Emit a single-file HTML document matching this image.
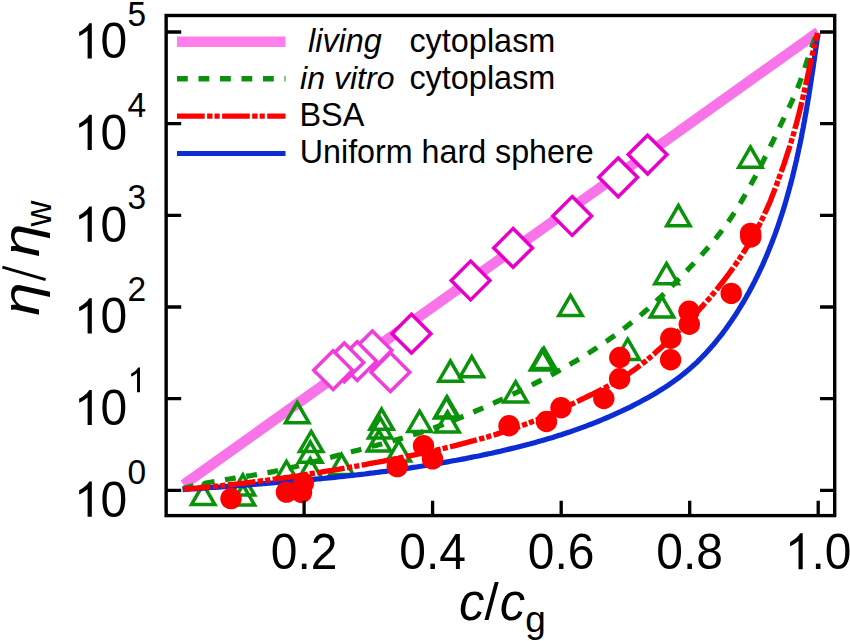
<!DOCTYPE html>
<html><head><meta charset="utf-8"><style>
html,body{margin:0;padding:0;background:#fff;}
body{width:850px;height:641px;overflow:hidden;}
svg{display:block;}
text{font-family:"Liberation Sans",sans-serif;fill:#000;}
</style></head><body>
<svg width="850" height="641" viewBox="0 0 850 641">
<rect x="0" y="0" width="850" height="641" fill="#fff"/>

<defs><clipPath id="pa"><rect x="166.15" y="15.5" width="668.5500000000001" height="500.1"/></clipPath></defs>
<g clip-path="url(#pa)">
<path d="M183.5,484.8 L818.2,32.0" stroke="#F874E8" stroke-width="10.4" fill="none"/>
<g fill="#fff" stroke="#F03CDC" stroke-width="3.5"><path d="M390.4,352.8 L409.8,372.2 L390.4,391.6 L371.0,372.2 Z"/><path d="M372.4,330.9 L391.8,350.3 L372.4,369.7 L353.0,350.3 Z"/><path d="M357.2,341.8 L376.6,361.2 L357.2,380.6 L337.8,361.2 Z"/><path d="M344.3,343.0 L363.7,362.4 L344.3,381.8 L324.9,362.4 Z"/><path d="M333.1,350.8 L352.5,370.2 L333.1,389.6 L313.7,370.2 Z"/></g>
<g fill="#fff" stroke="#E600CA" stroke-width="3.5"><path d="M411.5,314.3 L430.9,333.7 L411.5,353.1 L392.1,333.7 Z"/><path d="M470.6,261.1 L490.0,280.5 L470.6,299.9 L451.2,280.5 Z"/><path d="M513.1,228.5 L532.5,247.9 L513.1,267.3 L493.7,247.9 Z"/><path d="M572.2,196.6 L591.6,216.0 L572.2,235.4 L552.8,216.0 Z"/><path d="M618.2,157.9 L637.6,177.3 L618.2,196.7 L598.8,177.3 Z"/><path d="M647.6,135.2 L667.0,154.6 L647.6,174.0 L628.2,154.6 Z"/></g>
<g fill="none" stroke="#0A930A" stroke-width="3.5"><path d="M203.2,484.3 L214.9,504.5 L191.5,504.5 Z"/><path d="M242.9,474.8 L254.6,495.0 L231.2,495.0 Z"/><path d="M242.9,484.8 L254.6,505.0 L231.2,505.0 Z"/><path d="M297.2,402.5 L308.9,422.7 L285.5,422.7 Z"/><path d="M311.2,431.4 L322.9,451.6 L299.5,451.6 Z"/><path d="M310.3,442.0 L322.0,462.2 L298.6,462.2 Z"/><path d="M310.3,458.3 L322.0,478.5 L298.6,478.5 Z"/><path d="M286.4,461.4 L298.1,481.6 L274.7,481.6 Z"/><path d="M341.5,454.3 L353.2,474.5 L329.8,474.5 Z"/><path d="M381.6,409.1 L393.3,429.3 L369.9,429.3 Z"/><path d="M380.2,417.8 L391.9,438.0 L368.5,438.0 Z"/><path d="M379.0,430.8 L390.7,451.0 L367.3,451.0 Z"/><path d="M398.8,440.8 L410.5,461.0 L387.1,461.0 Z"/><path d="M419.6,411.2 L431.3,431.4 L407.9,431.4 Z"/><path d="M450.4,361.0 L462.1,381.2 L438.7,381.2 Z"/><path d="M471.8,356.6 L483.5,376.8 L460.1,376.8 Z"/><path d="M447.1,396.8 L458.8,417.0 L435.4,417.0 Z"/><path d="M446.3,397.7 L458.0,417.9 L434.6,417.9 Z"/><path d="M447.5,411.7 L459.2,431.9 L435.8,431.9 Z"/><path d="M542.1,349.8 L553.8,370.0 L530.4,370.0 Z"/><path d="M544.0,348.3 L555.7,368.5 L532.3,368.5 Z"/><path d="M515.6,381.7 L527.3,401.9 L503.9,401.9 Z"/><path d="M627.7,339.2 L639.4,359.4 L616.0,359.4 Z"/><path d="M662.0,296.8 L673.7,317.0 L650.3,317.0 Z"/><path d="M570.5,295.4 L582.2,315.6 L558.8,315.6 Z"/><path d="M666.5,263.5 L678.2,283.7 L654.8,283.7 Z"/><path d="M678.4,205.5 L690.1,225.7 L666.7,225.7 Z"/><path d="M750.4,147.0 L762.1,167.2 L738.7,167.2 Z"/></g>
<path d="M183.0,488.6 L185.7,487.8 L188.4,487.1 L191.1,486.4 L193.8,485.8 L196.5,485.1 L199.2,484.5 L202.0,483.9 L204.7,483.4 L207.4,482.8 L210.1,482.3 L212.9,481.8 L215.6,481.3 L218.4,480.8 L221.1,480.3 L223.9,479.9 L226.6,479.4 L229.4,479.0 L232.1,478.5 L234.9,478.1 L237.6,477.7 L240.4,477.2 L243.1,476.8 L245.9,476.4 L248.6,475.9 L251.4,475.5 L254.1,475.0 L256.9,474.6 L259.6,474.1 L262.4,473.6 L265.1,473.1 L267.8,472.6 L270.6,472.1 L273.3,471.6 L276.0,471.0 L278.7,470.4 L281.5,469.8 L284.2,469.2 L286.9,468.6 L289.6,468.0 L292.3,467.3 L295.0,466.7 L297.7,466.0 L300.4,465.3 L303.1,464.6 L305.8,463.9 L308.5,463.2 L311.2,462.5 L313.9,461.8 L316.6,461.1 L319.3,460.4 L322.0,459.7 L324.7,458.9 L327.3,458.2 L330.0,457.5 L332.7,456.8 L335.4,456.0 L338.1,455.3 L340.8,454.6 L343.5,453.9 L346.2,453.2 L348.9,452.5 L351.6,451.8 L354.3,451.1 L357.0,450.4 L359.7,449.7 L362.4,449.0 L365.1,448.3 L367.8,447.5 L370.5,446.8 L373.2,446.1 L375.9,445.4 L378.6,444.7 L381.3,444.0 L384.0,443.2 L386.7,442.5 L389.3,441.8 L392.0,441.0 L394.7,440.3 L397.4,439.5 L400.1,438.7 L402.7,438.0 L405.4,437.2 L408.1,436.4 L410.7,435.6 L413.4,434.8 L416.1,433.9 L418.7,433.1 L421.4,432.2 L424.0,431.4 L426.6,430.5 L429.3,429.6 L431.9,428.7 L434.5,427.7 L437.1,426.8 L439.7,425.8 L442.4,424.9 L445.0,423.9 L447.5,422.9 L450.1,421.8 L452.7,420.8 L455.3,419.8 L457.9,418.7 L460.5,417.6 L463.0,416.5 L465.6,415.5 L468.2,414.4 L470.7,413.3 L473.3,412.1 L475.8,411.0 L478.4,409.9 L480.9,408.8 L483.5,407.7 L486.0,406.5 L488.6,405.4 L491.1,404.2 L493.7,403.1 L496.2,401.9 L498.7,400.8 L501.3,399.6 L503.8,398.5 L506.3,397.3 L508.9,396.1 L511.4,394.9 L513.9,393.7 L516.4,392.5 L518.9,391.3 L521.4,390.1 L523.9,388.9 L526.4,387.6 L528.9,386.4 L531.4,385.2 L533.9,383.9 L536.4,382.6 L538.9,381.4 L541.3,380.1 L543.8,378.8 L546.3,377.5 L548.7,376.2 L551.2,374.9 L553.6,373.6 L556.1,372.2 L558.5,370.9 L561.0,369.5 L563.4,368.2 L565.8,366.8 L568.2,365.4 L570.6,364.0 L573.0,362.6 L575.4,361.2 L577.8,359.7 L580.2,358.3 L582.6,356.9 L584.9,355.4 L587.3,353.9 L589.7,352.4 L592.0,350.9 L594.3,349.4 L596.7,347.9 L599.0,346.3 L601.3,344.8 L603.6,343.2 L605.9,341.6 L608.2,340.1 L610.5,338.4 L612.7,336.8 L615.0,335.2 L617.3,333.6 L619.5,331.9 L621.7,330.2 L623.9,328.5 L626.1,326.9 L628.3,325.1 L630.5,323.4 L632.7,321.7 L634.9,319.9 L637.0,318.2 L639.1,316.4 L641.3,314.6 L643.4,312.8 L645.5,310.9 L647.6,309.1 L649.6,307.2 L651.7,305.4 L653.8,303.5 L655.8,301.6 L657.8,299.7 L659.9,297.8 L661.9,295.9 L663.9,293.9 L665.9,292.0 L667.9,290.0 L669.8,288.1 L671.8,286.1 L673.8,284.1 L675.7,282.1 L677.7,280.1 L679.6,278.1 L681.6,276.1 L683.5,274.1 L685.4,272.1 L687.4,270.1 L689.3,268.0 L691.2,266.0 L693.1,264.0 L695.0,261.9 L696.9,259.9 L698.8,257.8 L700.7,255.8 L702.6,253.7 L704.4,251.6 L706.3,249.5 L708.1,247.5 L709.9,245.3 L711.7,243.2 L713.5,241.1 L715.3,238.9 L717.0,236.8 L718.7,234.6 L720.5,232.4 L722.1,230.2 L723.8,228.0 L725.4,225.7 L727.0,223.5 L728.6,221.2 L730.2,218.9 L731.8,216.6 L733.3,214.3 L734.8,211.9 L736.3,209.6 L737.8,207.2 L739.3,204.9 L740.7,202.5 L742.1,200.1 L743.5,197.7 L744.9,195.3 L746.3,192.9 L747.7,190.4 L749.1,188.0 L750.4,185.6 L751.7,183.1 L753.1,180.6 L754.4,178.2 L755.7,175.7 L757.0,173.2 L758.2,170.7 L759.5,168.3 L760.8,165.8 L762.0,163.3 L763.3,160.8 L764.5,158.3 L765.8,155.8 L767.0,153.3 L768.2,150.8 L769.4,148.3 L770.6,145.8 L771.9,143.3 L773.1,140.8 L774.3,138.3 L775.5,135.8 L776.7,133.2 L777.9,130.7 L779.1,128.2 L780.3,125.7 L781.5,123.2 L782.7,120.7 L783.9,118.2 L785.1,115.7 L786.3,113.2 L787.5,110.7 L788.7,108.2 L789.9,105.6 L791.0,103.1 L792.2,100.6 L793.3,98.1 L794.5,95.5 L795.6,93.0 L796.6,90.4 L797.7,87.9 L798.7,85.3 L799.7,82.7 L800.6,80.1 L801.6,77.5 L802.5,74.8 L803.4,72.2 L804.3,69.6 L805.2,66.9 L806.0,64.3 L806.9,61.7 L807.7,59.0 L808.6,56.4 L809.5,53.7 L810.3,51.1 L811.2,48.4 L812.1,45.8 L813.1,43.2 L814.0,40.6 L815.0,38.0 L816.0,35.4 L817.1,32.8" stroke="#0A930A" stroke-width="5.2" fill="none" stroke-dasharray="10.8 10.7"/>
<path d="M182.5,489.7 L185.5,489.4 L188.5,489.2 L191.5,489.0 L194.4,488.8 L197.4,488.6 L200.4,488.4 L203.4,488.2 L206.4,487.9 L209.4,487.7 L212.4,487.5 L215.4,487.3 L218.4,487.1 L221.4,486.9 L224.4,486.6 L227.3,486.4 L230.3,486.2 L233.3,486.0 L236.3,485.8 L239.3,485.5 L242.3,485.3 L245.3,485.1 L248.3,484.9 L251.3,484.6 L254.2,484.4 L257.2,484.2 L260.2,483.9 L263.2,483.7 L266.2,483.5 L269.2,483.2 L272.2,483.0 L275.2,482.7 L278.1,482.5 L281.1,482.2 L284.1,482.0 L287.1,481.7 L290.1,481.5 L293.1,481.2 L296.1,481.0 L299.0,480.7 L302.0,480.4 L305.0,480.2 L308.0,479.9 L311.0,479.6 L314.0,479.3 L316.9,479.0 L319.9,478.8 L322.9,478.5 L325.9,478.2 L328.9,477.9 L331.8,477.6 L334.8,477.3 L337.8,476.9 L340.8,476.6 L343.8,476.3 L346.7,476.0 L349.7,475.7 L352.7,475.3 L355.7,475.0 L358.6,474.7 L361.6,474.3 L364.6,474.0 L367.5,473.6 L370.5,473.2 L373.5,472.9 L376.5,472.5 L379.4,472.1 L382.4,471.7 L385.4,471.4 L388.3,471.0 L391.3,470.6 L394.3,470.2 L397.2,469.8 L400.2,469.3 L403.2,468.9 L406.1,468.5 L409.1,468.1 L412.0,467.6 L415.0,467.2 L418.0,466.7 L420.9,466.3 L423.9,465.8 L426.8,465.3 L429.8,464.9 L432.8,464.4 L435.7,463.9 L438.7,463.4 L441.6,462.9 L444.6,462.4 L447.5,461.9 L450.5,461.3 L453.4,460.8 L456.4,460.3 L459.3,459.7 L462.3,459.1 L465.2,458.6 L468.2,458.0 L471.1,457.4 L474.0,456.8 L477.0,456.3 L479.9,455.7 L482.9,455.0 L485.8,454.4 L488.7,453.8 L491.7,453.2 L494.6,452.5 L497.5,451.9 L500.5,451.2 L503.4,450.5 L506.3,449.8 L509.2,449.1 L512.2,448.4 L515.1,447.7 L518.0,447.0 L520.9,446.3 L523.8,445.5 L526.7,444.7 L529.6,444.0 L532.5,443.2 L535.4,442.4 L538.3,441.6 L541.2,440.8 L544.1,439.9 L547.0,439.1 L549.8,438.2 L552.7,437.4 L555.6,436.5 L558.4,435.6 L561.3,434.7 L564.1,433.7 L567.0,432.8 L569.8,431.9 L572.7,430.9 L575.5,429.9 L578.3,428.9 L581.1,427.9 L583.9,426.9 L586.7,425.8 L589.5,424.7 L592.3,423.7 L595.1,422.6 L597.9,421.5 L600.6,420.3 L603.4,419.2 L606.2,418.0 L608.9,416.8 L611.6,415.7 L614.4,414.4 L617.1,413.2 L619.8,412.0 L622.5,410.7 L625.2,409.4 L627.9,408.1 L630.6,406.8 L633.3,405.4 L635.9,404.0 L638.6,402.7 L641.2,401.3 L643.9,399.8 L646.5,398.4 L649.1,396.9 L651.7,395.4 L654.3,393.9 L656.8,392.4 L659.4,390.8 L661.9,389.2 L664.5,387.6 L667.0,386.0 L669.4,384.3 L671.9,382.6 L674.3,380.8 L676.8,379.1 L679.2,377.3 L681.5,375.5 L683.9,373.6 L686.2,371.7 L688.5,369.8 L690.7,367.8 L693.0,365.8 L695.2,363.8 L697.4,361.8 L699.5,359.7 L701.6,357.5 L703.7,355.4 L705.8,353.2 L707.8,351.0 L709.8,348.7 L711.8,346.5 L713.8,344.2 L715.7,341.9 L717.6,339.5 L719.5,337.2 L721.4,334.8 L723.2,332.4 L725.0,330.0 L726.8,327.5 L728.5,325.1 L730.2,322.6 L731.9,320.1 L733.6,317.6 L735.3,315.1 L736.9,312.6 L738.5,310.0 L740.1,307.5 L741.6,304.9 L743.2,302.4 L744.7,299.8 L746.2,297.2 L747.6,294.6 L749.1,292.0 L750.5,289.3 L751.9,286.7 L753.3,284.1 L754.7,281.4 L756.0,278.7 L757.3,276.1 L758.6,273.4 L759.9,270.7 L761.1,268.0 L762.4,265.3 L763.6,262.6 L764.8,259.8 L766.0,257.1 L767.1,254.4 L768.3,251.6 L769.4,248.8 L770.5,246.1 L771.6,243.3 L772.7,240.5 L773.7,237.7 L774.8,234.9 L775.8,232.1 L776.8,229.3 L777.8,226.5 L778.8,223.6 L779.7,220.8 L780.6,218.0 L781.6,215.1 L782.5,212.3 L783.4,209.4 L784.3,206.6 L785.1,203.7 L786.0,200.8 L786.8,197.9 L787.6,195.0 L788.4,192.2 L789.2,189.3 L790.0,186.4 L790.8,183.5 L791.5,180.5 L792.3,177.6 L793.0,174.7 L793.7,171.8 L794.4,168.9 L795.1,165.9 L795.8,163.0 L796.5,160.1 L797.1,157.1 L797.8,154.2 L798.4,151.3 L799.0,148.3 L799.7,145.4 L800.3,142.4 L800.9,139.5 L801.5,136.5 L802.0,133.6 L802.6,130.6 L803.2,127.7 L803.7,124.7 L804.3,121.7 L804.8,118.8 L805.3,115.8 L805.9,112.9 L806.4,109.9 L806.9,106.9 L807.4,104.0 L807.9,101.0 L808.4,98.0 L808.9,95.1 L809.3,92.1 L809.8,89.2 L810.3,86.2 L810.7,83.2 L811.2,80.3 L811.6,77.3 L812.1,74.4 L812.5,71.4 L813.0,68.5 L813.4,65.5 L813.8,62.6 L814.3,59.6 L814.7,56.7 L815.1,53.8 L815.5,50.8 L816.0,47.9 L816.4,45.0 L816.8,42.0 L817.2,39.1 L817.6,36.2 L818.0,33.3" stroke="#0C2CD4" stroke-width="5.2" fill="none"/>
<path d="M183.0,489.1 L185.9,488.9 L188.8,488.7 L191.7,488.4 L194.5,488.2 L197.4,488.0 L200.3,487.7 L203.2,487.4 L206.1,487.2 L209.0,486.9 L211.8,486.6 L214.7,486.3 L217.6,486.1 L220.5,485.8 L223.4,485.5 L226.2,485.1 L229.1,484.8 L232.0,484.5 L234.9,484.2 L237.7,483.9 L240.6,483.5 L243.5,483.2 L246.4,482.8 L249.2,482.5 L252.1,482.1 L255.0,481.8 L257.8,481.4 L260.7,481.0 L263.6,480.7 L266.4,480.3 L269.3,479.9 L272.2,479.5 L275.0,479.1 L277.9,478.7 L280.8,478.3 L283.6,477.9 L286.5,477.5 L289.4,477.1 L292.2,476.6 L295.1,476.2 L297.9,475.8 L300.8,475.3 L303.7,474.9 L306.5,474.4 L309.4,474.0 L312.2,473.5 L315.1,473.1 L318.0,472.6 L320.8,472.2 L323.7,471.7 L326.5,471.2 L329.4,470.7 L332.2,470.3 L335.1,469.8 L337.9,469.3 L340.8,468.8 L343.6,468.3 L346.5,467.8 L349.3,467.3 L352.2,466.8 L355.0,466.3 L357.9,465.8 L360.7,465.3 L363.6,464.8 L366.4,464.3 L369.3,463.7 L372.1,463.2 L375.0,462.7 L377.8,462.2 L380.7,461.6 L383.5,461.1 L386.4,460.5 L389.2,460.0 L392.0,459.4 L394.9,458.9 L397.7,458.3 L400.6,457.7 L403.4,457.2 L406.2,456.6 L409.1,456.0 L411.9,455.4 L414.7,454.8 L417.6,454.2 L420.4,453.6 L423.2,453.0 L426.1,452.4 L428.9,451.8 L431.7,451.1 L434.5,450.5 L437.3,449.8 L440.2,449.2 L443.0,448.5 L445.8,447.8 L448.6,447.2 L451.4,446.5 L454.2,445.8 L457.0,445.1 L459.8,444.4 L462.6,443.7 L465.5,442.9 L468.2,442.2 L471.0,441.4 L473.8,440.7 L476.6,439.9 L479.4,439.1 L482.2,438.4 L485.0,437.6 L487.8,436.8 L490.5,435.9 L493.3,435.1 L496.1,434.3 L498.9,433.4 L501.6,432.5 L504.4,431.7 L507.1,430.8 L509.9,429.9 L512.6,428.9 L515.3,428.0 L518.1,427.0 L520.8,426.0 L523.5,425.0 L526.2,424.0 L528.9,423.0 L531.6,421.9 L534.3,420.9 L537.0,419.8 L539.6,418.7 L542.3,417.5 L544.9,416.4 L547.6,415.2 L550.2,414.1 L552.9,412.9 L555.5,411.7 L558.1,410.5 L560.8,409.3 L563.4,408.0 L566.0,406.8 L568.6,405.6 L571.3,404.3 L573.9,403.1 L576.5,401.8 L579.1,400.6 L581.7,399.3 L584.3,398.1 L587.0,396.8 L589.6,395.5 L592.2,394.3 L594.8,393.0 L597.4,391.7 L599.9,390.3 L602.5,389.0 L605.1,387.7 L607.6,386.3 L610.2,384.9 L612.7,383.5 L615.2,382.1 L617.7,380.6 L620.2,379.1 L622.6,377.6 L625.1,376.1 L627.5,374.5 L629.9,372.9 L632.2,371.2 L634.6,369.6 L636.9,367.9 L639.2,366.1 L641.5,364.4 L643.7,362.6 L646.0,360.8 L648.2,358.9 L650.4,357.1 L652.6,355.2 L654.8,353.3 L656.9,351.3 L659.1,349.4 L661.2,347.5 L663.4,345.5 L665.5,343.5 L667.6,341.5 L669.7,339.5 L671.8,337.5 L673.9,335.5 L676.0,333.5 L678.1,331.5 L680.1,329.4 L682.2,327.4 L684.2,325.3 L686.3,323.3 L688.3,321.2 L690.3,319.1 L692.3,317.0 L694.3,314.9 L696.3,312.8 L698.3,310.7 L700.3,308.5 L702.2,306.4 L704.1,304.2 L706.1,302.1 L708.0,299.9 L709.9,297.7 L711.7,295.5 L713.6,293.2 L715.4,291.0 L717.3,288.8 L719.1,286.5 L720.9,284.3 L722.7,282.0 L724.4,279.7 L726.2,277.4 L727.9,275.1 L729.6,272.7 L731.3,270.4 L733.0,268.1 L734.7,265.7 L736.3,263.3 L738.0,260.9 L739.6,258.5 L741.1,256.1 L742.7,253.7 L744.3,251.3 L745.8,248.8 L747.3,246.4 L748.8,243.9 L750.3,241.4 L751.7,238.9 L753.1,236.4 L754.5,233.9 L755.9,231.3 L757.3,228.8 L758.6,226.2 L759.9,223.7 L761.2,221.1 L762.5,218.5 L763.7,215.9 L764.9,213.2 L766.1,210.6 L767.3,208.0 L768.4,205.3 L769.6,202.6 L770.7,199.9 L771.7,197.2 L772.8,194.5 L773.9,191.8 L774.9,189.1 L775.9,186.4 L776.9,183.7 L777.9,180.9 L778.9,178.2 L779.9,175.5 L780.9,172.8 L781.9,170.0 L782.8,167.3 L783.8,164.6 L784.7,161.8 L785.6,159.1 L786.5,156.3 L787.4,153.6 L788.3,150.8 L789.2,148.1 L790.0,145.3 L790.9,142.6 L791.7,139.8 L792.5,137.1 L793.4,134.3 L794.2,131.5 L794.9,128.7 L795.7,126.0 L796.5,123.2 L797.2,120.4 L798.0,117.6 L798.7,114.8 L799.4,112.0 L800.1,109.2 L800.8,106.4 L801.4,103.6 L802.1,100.8 L802.8,97.9 L803.4,95.1 L804.0,92.3 L804.7,89.5 L805.3,86.6 L805.9,83.8 L806.6,81.0 L807.2,78.2 L807.8,75.3 L808.4,72.5 L809.1,69.7 L809.7,66.8 L810.3,64.0 L810.9,61.2 L811.6,58.3 L812.2,55.5 L812.8,52.7 L813.5,49.9 L814.1,47.1 L814.8,44.2 L815.5,41.4 L816.1,38.6 L816.8,35.8 L817.5,33.0" stroke="#FF0000" stroke-width="5.4" fill="none" stroke-dasharray="27.7 2.4 5.4 2 5.2 2.4"/>
<g fill="#FF0000"><circle cx="231" cy="498.6" r="10.7"/><circle cx="286.4" cy="492.1" r="10.7"/><circle cx="301.5" cy="492.5" r="10.7"/><circle cx="303.3" cy="483.3" r="10.7"/><circle cx="397.3" cy="466.6" r="10.7"/><circle cx="423.5" cy="445.8" r="10.7"/><circle cx="432.5" cy="458.9" r="10.7"/><circle cx="509" cy="425.8" r="10.7"/><circle cx="546.5" cy="421.5" r="10.7"/><circle cx="561" cy="407.8" r="10.7"/><circle cx="603.8" cy="398.5" r="10.7"/><circle cx="619.6" cy="378.7" r="10.7"/><circle cx="619.8" cy="357.5" r="10.7"/><circle cx="670.8" cy="338.2" r="10.7"/><circle cx="670.6" cy="359.8" r="10.7"/><circle cx="689" cy="311.3" r="10.7"/><circle cx="689.3" cy="324.3" r="10.7"/><circle cx="731.2" cy="293.4" r="10.7"/><circle cx="750.6" cy="233.4" r="10.7"/><circle cx="750.8" cy="237.0" r="10.7"/></g>
</g>
<rect x="166.15" y="15.5" width="668.55" height="500.10" fill="none" stroke="#000" stroke-width="3.4"/>
<path d="M166.15,490.4 H181.2 M834.7,490.4 H820 M166.15,398.7 H181.2 M834.7,398.7 H820 M166.15,307.0 H181.2 M834.7,307.0 H820 M166.15,215.4 H181.2 M834.7,215.4 H820 M166.15,123.7 H181.2 M834.7,123.7 H820 M166.15,32.0 H181.2 M834.7,32.0 H820 M304.1,515.6 V500.8 M432.6,515.6 V500.8 M561.2,515.6 V500.8 M689.7,515.6 V500.8 M818.2,515.6 V500.8" stroke="#000" stroke-width="3.3" fill="none"/>
<path d="M91.81,516.80 L87.59,516.80 L87.59,489.25 C86.07,490.72 81.84,493.38 79.16,494.43 L79.16,490.25 C83.04,488.36 87.60,484.82 89.14,481.57 L91.81,481.57 Z" fill="#000"/>
<g transform="translate(0,516.80) scale(1,1.025)"><text x="127.3" y="0" font-size="48" text-anchor="end">0</text></g>
<g transform="translate(0,483.90) scale(1,1.03)"><text x="127.5" y="0" font-size="33.5">0</text></g>
<path d="M91.81,425.12 L87.59,425.12 L87.59,397.57 C86.07,399.04 81.84,401.70 79.16,402.75 L79.16,398.57 C83.04,396.68 87.60,393.14 89.14,389.89 L91.81,389.89 Z" fill="#000"/>
<g transform="translate(0,425.12) scale(1,1.025)"><text x="127.3" y="0" font-size="48" text-anchor="end">0</text></g>
<path d="M139.98,392.22 L137.04,392.22 L137.04,372.90 C135.98,373.93 133.03,375.80 131.15,376.53 L131.15,373.60 C133.87,372.28 137.05,369.79 138.12,367.51 L139.98,367.51 Z" fill="#000"/>
<path d="M91.81,333.44 L87.59,333.44 L87.59,305.89 C86.07,307.36 81.84,310.02 79.16,311.07 L79.16,306.89 C83.04,305.00 87.60,301.46 89.14,298.21 L91.81,298.21 Z" fill="#000"/>
<g transform="translate(0,333.44) scale(1,1.025)"><text x="127.3" y="0" font-size="48" text-anchor="end">0</text></g>
<g transform="translate(0,300.54) scale(1,1.03)"><text x="127.5" y="0" font-size="33.5">2</text></g>
<path d="M91.81,241.76 L87.59,241.76 L87.59,214.21 C86.07,215.68 81.84,218.34 79.16,219.39 L79.16,215.21 C83.04,213.32 87.60,209.78 89.14,206.53 L91.81,206.53 Z" fill="#000"/>
<g transform="translate(0,241.76) scale(1,1.025)"><text x="127.3" y="0" font-size="48" text-anchor="end">0</text></g>
<g transform="translate(0,208.86) scale(1,1.03)"><text x="127.5" y="0" font-size="33.5">3</text></g>
<path d="M91.81,150.08 L87.59,150.08 L87.59,122.53 C86.07,124.00 81.84,126.66 79.16,127.71 L79.16,123.53 C83.04,121.64 87.60,118.10 89.14,114.85 L91.81,114.85 Z" fill="#000"/>
<g transform="translate(0,150.08) scale(1,1.025)"><text x="127.3" y="0" font-size="48" text-anchor="end">0</text></g>
<g transform="translate(0,117.18) scale(1,1.03)"><text x="127.5" y="0" font-size="33.5">4</text></g>
<path d="M91.81,58.40 L87.59,58.40 L87.59,30.85 C86.07,32.32 81.84,34.98 79.16,36.03 L79.16,31.85 C83.04,29.96 87.60,26.42 89.14,23.17 L91.81,23.17 Z" fill="#000"/>
<g transform="translate(0,58.40) scale(1,1.025)"><text x="127.3" y="0" font-size="48" text-anchor="end">0</text></g>
<g transform="translate(0,25.50) scale(1,1.03)"><text x="127.5" y="0" font-size="33.5">5</text></g>
<g transform="translate(304.12,569.2) scale(1,1.045)"><text x="0" y="0" font-size="48" text-anchor="middle">0.2</text></g>
<g transform="translate(432.64,569.2) scale(1,1.045)"><text x="0" y="0" font-size="48" text-anchor="middle">0.4</text></g>
<g transform="translate(561.16,569.2) scale(1,1.045)"><text x="0" y="0" font-size="48" text-anchor="middle">0.6</text></g>
<g transform="translate(689.68,569.2) scale(1,1.045)"><text x="0" y="0" font-size="48" text-anchor="middle">0.8</text></g>
<path d="M802.72,569.20 L798.51,569.20 L798.51,541.11 C796.98,542.62 792.76,545.32 790.07,546.40 L790.07,542.13 C793.96,540.21 798.52,536.60 800.05,533.29 L802.72,533.29 Z" fill="#000"/>
<g transform="translate(784.84,569.2) scale(1,1.045)"><text x="26.69" y="0" font-size="48">.0</text></g>
<text x="459" y="619.5" font-size="51"><tspan font-style="italic">c</tspan><tspan>/</tspan><tspan font-style="italic" dx="1">c</tspan><tspan font-size="37" dy="12">g</tspan></text>
<g transform="translate(38.8,314.0) rotate(-90)">
<g transform="translate(-1.8,0) scale(1.18,1)"><text x="0" y="0" font-size="51" font-style="italic">η</text></g>
<g transform="translate(57,0) scale(1.18,1)"><text x="0" y="0" font-size="51" font-style="italic">η</text></g>
<text x="87.4" y="12.6" font-size="36">w</text>
</g>
<path d="M45.6,279.6 L2.4,267.2" stroke="#000" stroke-width="2.9" fill="none"/>
<path d="M177,41.8 H285.5" stroke="#FE7EEB" stroke-width="10.4"/>
<path d="M177,78.7 H285.5" stroke="#0A930A" stroke-width="5.4" stroke-dasharray="10.8 10.7"/>
<path d="M177,116.2 H285.5" stroke="#FF0000" stroke-width="5.2" stroke-dasharray="27.7 2.4 5.4 2 5.2 2.4"/>
<path d="M177,153.5 H285.5" stroke="#0C2CD4" stroke-width="5.2"/>
<g transform="translate(0,51.5)"><text x="308" y="0" font-size="32.4" font-style="italic">living</text><text x="409.4" y="0" font-size="32.6" textLength="146" lengthAdjust="spacingAndGlyphs">cytoplasm</text></g>
<g transform="translate(0,88.8)"><text x="300" y="0" font-size="32.1" font-style="italic">in vitro</text><text x="409.4" y="0" font-size="32.6" textLength="146" lengthAdjust="spacingAndGlyphs">cytoplasm</text></g>
<g transform="translate(0,126) scale(1,1.03)"><text x="299.5" y="0" font-size="32.4">BSA</text></g>
<g transform="translate(0,163.1) scale(1,1.03)"><text x="299.8" y="0" font-size="32.25">Uniform hard sphere</text></g>
</svg></body></html>
